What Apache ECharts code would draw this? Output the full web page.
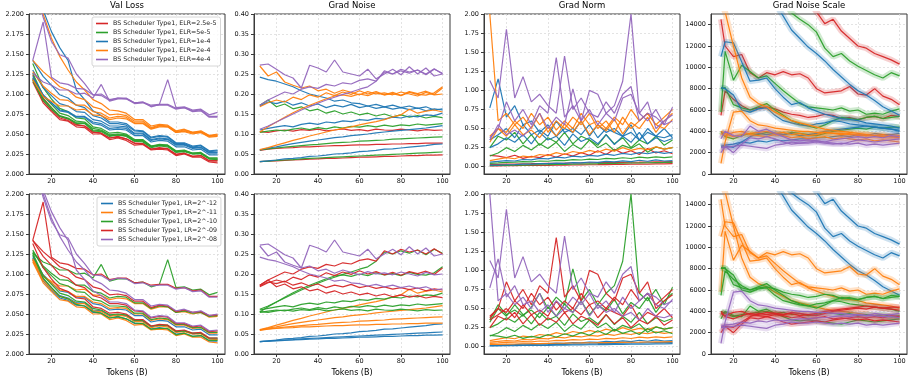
<!DOCTYPE html>
<html><head><meta charset="utf-8">
<script src="https://cdn.jsdelivr.net/npm/echarts@6/dist/echarts.min.js"></script>
<style>html,body{margin:0;padding:0;background:#fff}#c{width:913px;height:379px}</style>
</head><body><div id="c"></div><script>
// ---- run identities: ELR group (top row colouring) and LR group (bottom row colouring)
const RUN_ELR = [0,0,0,1,1,1,1,2,2,2,2,2,3,3,3,3,4,4,4];
const RUN_LR  = [0,1,2,0,1,2,3,0,1,2,3,4,1,2,3,4,2,3,4];
const ELR_NAMES = ['BS Scheduler Type1, ELR=2.5e-5','BS Scheduler Type1, ELR=5e-5','BS Scheduler Type1, ELR=1e-4','BS Scheduler Type1, ELR=2e-4','BS Scheduler Type1, ELR=4e-4'];
const LR_NAMES = ['BS Scheduler Type1, LR=2^-12','BS Scheduler Type1, LR=2^-11','BS Scheduler Type1, LR=2^-10','BS Scheduler Type1, LR=2^-09','BS Scheduler Type1, LR=2^-08'];
const TITLES = ['Val Loss','Grad Noise','Grad Norm','Grad Noise Scale'];

// ---- x samples (tokens, B)
const X_LOSS  = [11,16,20,24,28,32,36,40,44,48,52,56,60,64,68,72,76,80,84,88,92,96,100];
const X_NOISE = [12,16,20,24,28,32,36,40,44,48,52,56,60,64,68,72,76,80,84,88,92,96,100];
const X_NORM  = [12,16,20,24,28,32,36,40,44,48,52,56,60,64,68,72,76,80,84,88,92,96,100];
const X_GNS   = [14,16,20,24,28,32,36,40,44,48,52,56,60,64,68,72,76,80,84,88,92,96,100];
const X_TICKS = [20,40,60,80,100];

// ---- tick labels
const Y_TICKS_LOSS  = [2.000,2.025,2.050,2.075,2.100,2.125,2.150,2.175,2.200];
const Y_TICKS_NOISE = [0.00,0.05,0.10,0.15,0.20,0.25,0.30,0.35,0.40];
const Y_TICKS_NORM  = [0.00,0.25,0.50,0.75,1.00,1.25,1.50,1.75,2.00];
const Y_TICKS_GNS   = [0,2000,4000,6000,8000,10000,12000,14000];

// ---- Val Loss per run
const VAL_LOSS = [
[2.118,2.091,2.080,2.070,2.067,2.061,2.060,2.052,2.051,2.045,2.046,2.044,2.038,2.038,2.031,2.033,2.031,2.025,2.026,2.022,2.023,2.016,2.016],
[2.115,2.089,2.078,2.068,2.066,2.059,2.058,2.050,2.050,2.043,2.045,2.042,2.036,2.037,2.030,2.031,2.030,2.023,2.025,2.021,2.021,2.015,2.014],
[2.124,2.095,2.083,2.072,2.069,2.062,2.060,2.053,2.051,2.045,2.047,2.044,2.039,2.038,2.031,2.032,2.032,2.024,2.026,2.022,2.023,2.017,2.017],
[2.120,2.094,2.083,2.073,2.070,2.064,2.064,2.055,2.054,2.048,2.049,2.048,2.041,2.041,2.034,2.036,2.035,2.028,2.029,2.025,2.026,2.019,2.019],
[2.117,2.092,2.081,2.072,2.069,2.063,2.063,2.054,2.053,2.047,2.049,2.047,2.041,2.040,2.033,2.035,2.034,2.027,2.028,2.025,2.025,2.019,2.018],
[2.126,2.098,2.087,2.076,2.073,2.066,2.065,2.057,2.055,2.049,2.050,2.049,2.042,2.042,2.035,2.036,2.036,2.028,2.029,2.026,2.026,2.020,2.020],
[2.138,2.108,2.094,2.082,2.078,2.070,2.069,2.059,2.057,2.051,2.052,2.050,2.043,2.043,2.035,2.037,2.036,2.029,2.030,2.026,2.027,2.020,2.020],
[2.122,2.099,2.089,2.079,2.077,2.071,2.071,2.063,2.061,2.055,2.056,2.055,2.048,2.048,2.040,2.042,2.041,2.034,2.034,2.030,2.031,2.024,2.024],
[2.119,2.098,2.089,2.080,2.078,2.072,2.072,2.065,2.063,2.057,2.058,2.057,2.050,2.050,2.042,2.044,2.043,2.036,2.036,2.032,2.033,2.026,2.026],
[2.130,2.108,2.098,2.088,2.085,2.078,2.077,2.068,2.066,2.060,2.060,2.059,2.051,2.051,2.043,2.045,2.044,2.037,2.037,2.033,2.033,2.027,2.027],
[2.142,2.122,2.111,2.099,2.095,2.086,2.083,2.073,2.070,2.063,2.063,2.061,2.054,2.053,2.045,2.047,2.046,2.038,2.038,2.034,2.035,2.028,2.029],
[2.240,2.205,2.178,2.158,2.142,2.105,2.093,2.079,2.073,2.065,2.065,2.063,2.055,2.054,2.046,2.048,2.047,2.039,2.039,2.035,2.036,2.029,2.030],
[2.118,2.097,2.091,2.085,2.085,2.080,2.081,2.074,2.073,2.068,2.070,2.069,2.063,2.063,2.056,2.059,2.059,2.052,2.053,2.050,2.052,2.046,2.047],
[2.128,2.110,2.101,2.093,2.092,2.086,2.086,2.078,2.076,2.070,2.072,2.071,2.064,2.064,2.057,2.060,2.059,2.052,2.054,2.051,2.052,2.047,2.048],
[2.142,2.128,2.119,2.109,2.105,2.096,2.093,2.084,2.081,2.074,2.075,2.073,2.066,2.066,2.058,2.061,2.060,2.053,2.055,2.052,2.053,2.048,2.049],
[2.240,2.200,2.170,2.147,2.130,2.115,2.105,2.093,2.088,2.080,2.079,2.076,2.068,2.068,2.060,2.062,2.061,2.054,2.056,2.052,2.054,2.048,2.050],
[2.126,2.115,2.111,2.105,2.105,2.100,2.101,2.095,2.112,2.091,2.094,2.094,2.089,2.090,2.084,2.087,2.118,2.083,2.084,2.080,2.081,2.074,2.077],
[2.142,2.190,2.121,2.114,2.112,2.107,2.106,2.099,2.100,2.093,2.095,2.095,2.089,2.090,2.086,2.087,2.087,2.082,2.083,2.079,2.080,2.072,2.072],
[2.240,2.196,2.166,2.149,2.145,2.125,2.113,2.099,2.098,2.092,2.095,2.094,2.088,2.089,2.085,2.086,2.086,2.081,2.083,2.078,2.079,2.071,2.071]
];

// ---- Grad Noise per run
const GRAD_NOISE = [
[0.031,0.032,0.033,0.034,0.035,0.036,0.037,0.038,0.039,0.039,0.040,0.041,0.042,0.042,0.043,0.044,0.044,0.045,0.046,0.046,0.047,0.047,0.048],
[0.059,0.062,0.064,0.065,0.066,0.068,0.068,0.069,0.070,0.071,0.071,0.072,0.073,0.073,0.074,0.074,0.075,0.075,0.076,0.076,0.077,0.077,0.077],
[0.106,0.104,0.108,0.110,0.107,0.111,0.109,0.112,0.108,0.110,0.113,0.109,0.111,0.108,0.112,0.110,0.109,0.112,0.110,0.108,0.111,0.109,0.110],
[0.031,0.032,0.034,0.035,0.036,0.038,0.039,0.040,0.041,0.042,0.043,0.044,0.045,0.046,0.047,0.048,0.049,0.050,0.051,0.052,0.053,0.054,0.055],
[0.060,0.063,0.065,0.067,0.069,0.071,0.073,0.074,0.076,0.078,0.079,0.080,0.082,0.083,0.084,0.085,0.087,0.088,0.089,0.090,0.091,0.092,0.093],
[0.104,0.107,0.110,0.108,0.112,0.115,0.111,0.116,0.113,0.118,0.115,0.119,0.117,0.121,0.118,0.122,0.119,0.123,0.121,0.125,0.122,0.124,0.126],
[0.172,0.185,0.168,0.175,0.163,0.168,0.158,0.162,0.152,0.158,0.150,0.155,0.148,0.152,0.145,0.150,0.143,0.148,0.142,0.146,0.140,0.144,0.141],
[0.031,0.033,0.035,0.038,0.039,0.041,0.044,0.045,0.047,0.050,0.051,0.053,0.056,0.057,0.059,0.062,0.063,0.065,0.067,0.069,0.071,0.074,0.075],
[0.060,0.065,0.068,0.072,0.076,0.079,0.082,0.085,0.088,0.091,0.093,0.096,0.098,0.100,0.103,0.105,0.107,0.109,0.111,0.113,0.115,0.118,0.121],
[0.110,0.114,0.118,0.121,0.118,0.124,0.127,0.124,0.130,0.128,0.133,0.131,0.136,0.134,0.139,0.137,0.142,0.140,0.145,0.143,0.148,0.146,0.152],
[0.170,0.180,0.176,0.182,0.172,0.178,0.170,0.175,0.166,0.172,0.168,0.174,0.166,0.170,0.164,0.168,0.162,0.166,0.161,0.165,0.158,0.163,0.160],
[0.242,0.236,0.232,0.225,0.218,0.208,0.200,0.195,0.190,0.182,0.185,0.178,0.176,0.170,0.174,0.168,0.172,0.166,0.170,0.164,0.168,0.160,0.163],
[0.061,0.066,0.072,0.078,0.084,0.089,0.095,0.100,0.105,0.110,0.114,0.118,0.123,0.127,0.131,0.136,0.143,0.148,0.162,0.152,0.157,0.160,0.155],
[0.105,0.118,0.130,0.142,0.153,0.163,0.172,0.180,0.188,0.195,0.198,0.194,0.200,0.196,0.203,0.198,0.201,0.196,0.204,0.199,0.197,0.203,0.218],
[0.168,0.178,0.185,0.180,0.192,0.186,0.198,0.192,0.203,0.196,0.205,0.199,0.208,0.200,0.206,0.198,0.204,0.197,0.206,0.201,0.207,0.199,0.215],
[0.270,0.245,0.255,0.230,0.222,0.215,0.220,0.208,0.212,0.202,0.210,0.204,0.198,0.206,0.200,0.203,0.198,0.205,0.200,0.195,0.204,0.198,0.200],
[0.112,0.120,0.130,0.140,0.150,0.160,0.168,0.177,0.185,0.192,0.199,0.205,0.212,0.218,0.232,0.255,0.250,0.258,0.252,0.260,0.248,0.262,0.252],
[0.172,0.185,0.195,0.205,0.200,0.212,0.218,0.214,0.224,0.220,0.228,0.225,0.234,0.238,0.232,0.258,0.250,0.262,0.255,0.260,0.250,0.263,0.250],
[0.272,0.275,0.262,0.248,0.240,0.215,0.272,0.265,0.255,0.285,0.255,0.250,0.245,0.262,0.238,0.250,0.262,0.248,0.268,0.250,0.265,0.245,0.250]
];

// ---- Grad Norm per run
const GRAD_NORM = [
[0.010,0.011,0.013,0.014,0.016,0.017,0.018,0.019,0.021,0.022,0.023,0.025,0.026,0.027,0.029,0.030,0.031,0.033,0.034,0.035,0.037,0.038,0.040],
[0.030,0.032,0.035,0.036,0.039,0.040,0.042,0.044,0.046,0.047,0.049,0.050,0.052,0.053,0.055,0.056,0.058,0.059,0.060,0.062,0.063,0.064,0.066],
[0.150,0.140,0.120,0.150,0.110,0.135,0.120,0.160,0.125,0.170,0.140,0.185,0.150,0.210,0.160,0.230,0.175,0.210,0.160,0.240,0.180,0.210,0.170],
[0.015,0.016,0.018,0.020,0.022,0.024,0.026,0.027,0.030,0.031,0.033,0.036,0.038,0.040,0.043,0.044,0.046,0.049,0.050,0.052,0.055,0.056,0.058],
[0.045,0.050,0.056,0.060,0.066,0.064,0.075,0.072,0.084,0.080,0.092,0.088,0.100,0.095,0.110,0.102,0.118,0.108,0.125,0.115,0.130,0.120,0.128],
[0.140,0.180,0.250,0.200,0.280,0.220,0.300,0.240,0.320,0.200,0.290,0.230,0.350,0.250,0.310,0.210,0.280,0.240,0.300,0.190,0.260,0.230,0.250],
[0.250,0.400,0.350,0.450,0.300,0.420,0.280,0.380,0.320,0.450,0.300,0.400,0.350,0.280,0.420,0.300,0.380,0.250,0.350,0.300,0.400,0.280,0.350],
[0.020,0.022,0.026,0.028,0.033,0.035,0.040,0.041,0.048,0.045,0.055,0.050,0.062,0.058,0.070,0.063,0.078,0.068,0.085,0.072,0.090,0.075,0.080],
[0.060,0.070,0.080,0.075,0.095,0.090,0.110,0.102,0.125,0.115,0.140,0.128,0.150,0.138,0.165,0.150,0.175,0.160,0.185,0.170,0.195,0.175,0.190],
[0.250,0.300,0.380,0.320,0.420,0.300,0.450,0.350,0.400,0.280,0.430,0.330,0.380,0.300,0.420,0.290,0.400,0.320,0.450,0.300,0.380,0.330,0.370],
[0.350,0.420,0.500,0.380,0.550,0.420,0.480,0.400,0.600,0.450,0.500,0.420,0.550,0.380,0.500,0.450,0.400,0.550,0.350,0.450,0.400,0.500,0.380],
[0.770,1.150,0.650,0.800,0.550,0.600,0.450,0.550,0.400,0.500,0.450,0.600,0.400,0.550,0.450,0.500,0.400,0.450,0.350,0.500,0.400,0.380,0.420],
[0.080,0.100,0.120,0.105,0.140,0.125,0.160,0.145,0.185,0.160,0.200,0.180,0.215,0.190,0.230,0.205,0.250,0.215,0.240,0.225,0.260,0.230,0.250],
[0.320,0.500,0.400,0.550,0.420,0.480,0.380,0.520,0.400,0.560,0.450,0.600,0.420,0.550,0.470,0.620,0.430,0.580,0.500,0.650,0.450,0.600,0.700],
[0.400,0.500,0.450,0.600,0.500,0.700,0.550,0.650,0.480,0.600,0.500,0.700,0.550,0.600,0.500,0.650,0.550,0.750,0.600,0.700,0.550,0.650,0.750],
[2.000,0.600,0.700,0.550,0.650,0.500,0.700,0.450,0.600,0.500,0.650,0.550,0.700,0.500,0.600,0.450,0.650,0.500,0.600,0.700,0.550,0.500,0.620],
[0.350,0.550,0.420,0.480,0.400,0.520,0.700,0.500,0.650,0.550,1.020,0.600,0.750,0.550,0.700,0.800,1.120,2.000,0.700,0.600,0.750,0.550,0.780],
[0.380,0.500,0.850,0.600,0.750,0.550,0.800,0.700,1.430,0.650,0.800,0.600,1.000,0.950,0.700,0.600,0.900,0.950,0.700,0.850,0.500,0.600,0.680],
[1.130,0.900,1.800,0.900,1.180,0.850,0.950,0.800,0.700,1.450,0.750,0.900,0.700,0.650,0.850,0.700,0.950,1.050,0.600,0.700,0.650,0.550,0.600]
];

// ---- Grad Noise Scale per run
const GNS = [
[42000,38000,34000,30000,27500,25000,23000,21500,20000,18800,17500,16300,15200,14100,14500,13400,12700,12000,11800,11300,11000,10700,10300],
[14500,12000,11000,11200,9500,9000,9500,9300,9600,9300,9400,9000,8000,7600,7700,7800,8200,7500,7400,8000,7300,7000,6500],
[5500,7800,7000,6400,6000,6200,6300,6100,5800,5600,5500,5300,5400,5600,5500,5200,5300,5100,5300,5400,5200,5500,5400],
[40000,36000,31000,27000,24000,21500,19500,17800,16500,15100,14500,14000,13300,11800,11000,11300,10600,10100,9700,9300,9000,9500,9200],
[5800,11500,8800,10200,9600,9000,9200,8500,7800,7200,6600,6300,6200,6100,6000,6200,5900,6000,5600,5700,5600,5900,6100],
[8000,8100,6500,6200,6000,6300,6600,6000,5500,5000,4700,4500,4300,4600,5000,5300,5200,5100,5300,5400,5200,5300,5400],
[4000,3500,3300,3600,3800,3700,3900,3800,3700,3900,3800,3700,3600,3800,4000,4100,4200,4300,4200,4400,4300,4400,4400],
[36000,33000,28500,25000,22000,19500,17500,16000,14800,13500,12700,11900,11300,10600,9800,9100,8400,7800,7400,6900,6300,5900,5500],
[11000,12400,12300,10500,8700,8800,9000,8000,7200,6500,6700,6200,5900,5600,5400,5200,5100,5000,4800,4700,4600,4500,4300],
[8100,8000,7400,6000,5800,6100,6200,5500,5000,4800,4600,4500,4700,4800,5000,4900,4700,4600,4500,4400,4300,4200,4000],
[2500,2600,2500,3000,3500,3800,3700,3800,3700,3800,3600,3700,3800,4000,4100,4200,4300,4400,4500,4400,4300,4200,4100],
[2600,2700,2800,3000,2900,3100,3000,3200,3100,3200,3300,3300,3400,3400,3500,3600,3500,3700,3600,3800,3700,3700,3800],
[16000,15200,12000,9000,7200,6600,6300,5800,5400,5000,4800,4600,4400,4200,4100,4000,3900,3800,3700,3600,3550,3500,3450],
[4000,3800,3500,3700,3800,3900,4000,3800,3900,3700,3800,3600,3700,3900,3800,3700,3800,3600,3700,3600,3700,3500,3600],
[3800,3600,3900,4000,3700,3600,3500,3700,3600,3400,3500,3300,3400,3500,3300,3400,3300,3200,3300,3100,3200,3100,3000],
[1000,3000,5800,5900,5000,4600,4500,4300,4200,4100,4000,4000,3900,3900,3800,3800,3700,3700,3600,3600,3500,3500,3400],
[3300,4000,3600,3500,4500,4000,4200,3800,3500,3200,3100,3200,3100,3000,2900,2800,3000,3200,3100,3000,3100,3200,3300],
[2000,2600,2000,2800,3400,3300,3500,3300,3000,2800,2900,3000,3100,3000,3200,3300,3400,3500,3400,3500,3400,3600,3500],
[2500,2500,2600,2700,2600,2500,2400,2700,2800,3000,2900,2900,3000,2900,2800,2900,2800,2900,2700,2800,2700,2800,2900]
];

// ---- styling
const COLORS_ELR = ['#d62728','#2ca02c','#1f77b4','#ff7f0e','#9467bd'];
const COLORS_LR  = ['#1f77b4','#ff7f0e','#2ca02c','#d62728','#9467bd'];
const FONT = 'DejaVu Sans';
const GRID_LEFT = [29, 254, 484, 711];
const GRID_TOP = [14, 194];
const GRID_W = 196, GRID_H = 160;
const X_MIN = 9.2, X_MAX = 103.6;

const PANELS = [
  {x: X_LOSS,  data: VAL_LOSS,   ymin: 2.0,   ymax: 2.2,   ticks: Y_TICKS_LOSS,  dec: 3},
  {x: X_NOISE, data: GRAD_NOISE, ymin: 0,     ymax: 0.4,   ticks: Y_TICKS_NOISE, dec: 2},
  {x: X_NORM,  data: GRAD_NORM,  ymin: -0.095,ymax: 2.0,   ticks: Y_TICKS_NORM,  dec: 2},
  {x: X_GNS,   data: GNS,        ymin: 0,     ymax: 15000, ticks: Y_TICKS_GNS,   dec: 0, band: true}
];

const grids = [], xAxes = [], yAxes = [], series = [], titles = [];
for (let row = 0; row < 2; row++) {
  for (let col = 0; col < 4; col++) {
    const g = row * 4 + col;
    const P = PANELS[col];
    grids.push({left: GRID_LEFT[col], top: GRID_TOP[row], width: GRID_W, height: GRID_H,
      show: true, borderColor: '#3a3a3a', borderWidth: 1, backgroundColor: 'transparent', containLabel: false});
    xAxes.push({type: 'value', gridIndex: g, min: X_MIN, max: X_MAX,
      axisLine: {show: true, onZero: false, lineStyle: {color: '#3a3a3a', width: 1}},
      axisTick: {show: true, length: 3, customValues: X_TICKS, lineStyle: {color: '#3a3a3a'}},
      axisLabel: {customValues: X_TICKS, fontSize: 6.5, fontFamily: FONT, color: '#111', margin: 4},
      splitLine: {show: true, lineStyle: {color: '#dcdcdc', type: [2, 2], width: 0.8}},
      name: row === 1 ? 'Tokens (B)' : '', nameLocation: 'middle', nameGap: 15,
      nameTextStyle: {fontSize: 8, fontFamily: FONT, color: '#000'}});
    yAxes.push({type: 'value', gridIndex: g, min: P.ymin, max: P.ymax,
      axisLine: {show: true, onZero: false, lineStyle: {color: '#3a3a3a', width: 1}},
      axisTick: {show: true, length: 3, customValues: P.ticks, lineStyle: {color: '#3a3a3a'}},
      axisLabel: {customValues: P.ticks, fontSize: 6.5, fontFamily: FONT, color: '#111', margin: 5,
        formatter: v => Number(v).toFixed(P.dec)},
      splitLine: {show: true, lineStyle: {color: '#dcdcdc', type: [2, 2], width: 0.8}}});
    const colors = row === 0 ? COLORS_ELR : COLORS_LR;
    const names = row === 0 ? ELR_NAMES : LR_NAMES;
    const grp = row === 0 ? RUN_ELR : RUN_LR;
    for (let k = 0; k < 5; k++) {
      for (let r = 0; r < grp.length; r++) {
        if (grp[r] !== k) continue;
        const pts = P.x.map((xv, i) => [xv, P.data[r][i]]);
        if (P.band) {
          series.push({type: 'line', name: names[k], xAxisIndex: g, yAxisIndex: g, data: pts,
            showSymbol: false, symbol: 'none', silent: true, animation: false, clip: true,
            itemStyle: {color: colors[k]}, lineStyle: {color: colors[k], width: 6, opacity: 0.22}});
        }
        series.push({type: 'line', name: names[k], xAxisIndex: g, yAxisIndex: g, data: pts,
          showSymbol: false, symbol: 'none', silent: true, animation: false, clip: true,
          itemStyle: {color: colors[k]}, lineStyle: {color: colors[k], width: 1.2, opacity: 0.95}});
      }
    }
  }
}
for (let col = 0; col < 4; col++) {
  titles.push({text: TITLES[col], left: GRID_LEFT[col] + GRID_W / 2, top: 1, textAlign: 'center', padding: 0,
    textStyle: {fontSize: 8.5, fontWeight: 'normal', fontFamily: FONT, color: '#000'}});
}
const legendCommon = {orient: 'vertical', icon: 'rect', itemWidth: 12, itemHeight: 1.6, itemGap: 2,
  padding: [3, 4, 3, 4], borderColor: '#cccccc', borderWidth: 0.8, borderRadius: 2,
  backgroundColor: 'rgba(255,255,255,0.8)', selectedMode: false,
  textStyle: {fontSize: 6.3, fontFamily: FONT, color: '#222', lineHeight: 7}};
const legends = [
  Object.assign({}, legendCommon, {data: ELR_NAMES, left: 92, top: 17}),
  Object.assign({}, legendCommon, {data: LR_NAMES, left: 97, top: 197})
];

const chart = echarts.init(document.getElementById('c'), null, {renderer: 'canvas'});
chart.setOption({animation: false, backgroundColor: '#fff', title: titles, legend: legends,
  grid: grids, xAxis: xAxes, yAxis: yAxes, series: series});
</script></body></html>
